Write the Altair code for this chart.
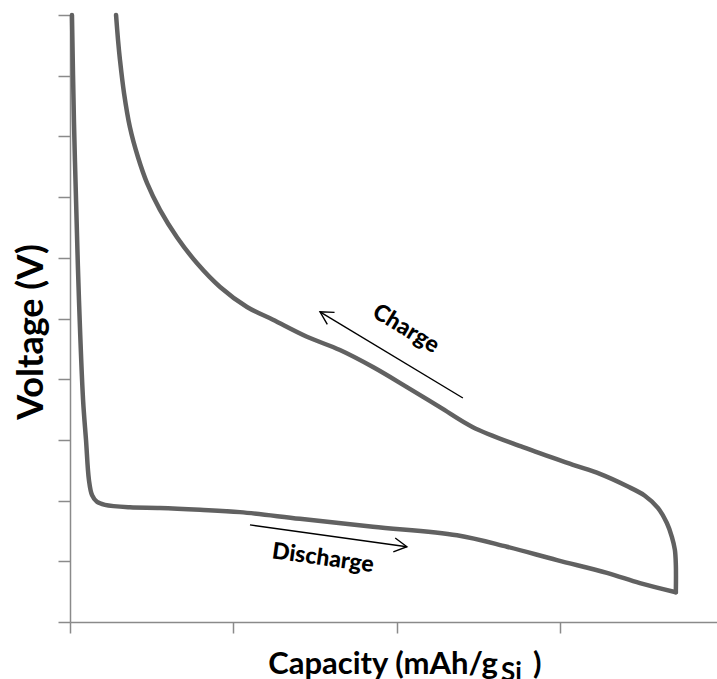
import math
import altair as alt
import pandas as pd

# Galvanostatic discharge/charge profile of a Si anode (capacity in mAh/g, voltage in V)
capacity_discharge = [12, 24, 37, 55, 80, 98, 116, 135, 165, 214, 367, 551, 796, 1041,
                      1408, 1855, 2370, 2676, 2982, 3288, 3490, 3710]
voltage_discharge = [1.000, 0.827, 0.695, 0.530, 0.366, 0.300, 0.234, 0.209, 0.198, 0.193,
                     0.189, 0.188, 0.185, 0.181, 0.170, 0.157, 0.143, 0.124, 0.102,
                     0.081, 0.064, 0.049]

capacity_charge = [3710, 3710, 3704, 3686, 3655, 3600, 3520, 3410, 3245, 3080, 2774, 2467,
                   2265, 2063, 1855, 1653, 1451, 1243, 1084, 919, 778, 655, 551, 472, 416,
                   367, 331, 306, 294, 282]
voltage_charge = [0.049, 0.094, 0.119, 0.140, 0.163, 0.188, 0.208, 0.224, 0.244, 0.259,
                  0.288, 0.321, 0.354, 0.387, 0.420, 0.448, 0.470, 0.498, 0.519, 0.552,
                  0.591, 0.634, 0.679, 0.723, 0.766, 0.815, 0.871, 0.926, 0.959, 1.000]

# Direction arrows and their labels
arrow_labels = ["Charge", "Discharge"]
arrow_tail_cap = [2406, 1102]
arrow_tail_volt = [0.369, 0.160]
arrow_tip_cap = [1531, 2063]
arrow_tip_volt = [0.511, 0.124]
label_cap = [2057, 1549]
label_volt = [0.483, 0.105]

x_ticks = [0, 1000, 2000, 3000]
y_ticks = [round(0.1 * i, 1) for i in range(11)]

X_MAX = 3962
W, H = 647, 607
FONT = "Lato"
CURVE = "#616161"
AXIS = "#8a8a8a"

xs = alt.Scale(domain=[0, X_MAX], nice=False, zero=False)
ys = alt.Scale(domain=[0, 1.0], nice=False)

rows = []
for i, (c, v) in enumerate(zip(capacity_discharge, voltage_discharge)):
    rows.append({"step": "Discharge", "i": i, "capacity": c, "voltage": v})
for i, (c, v) in enumerate(zip(capacity_charge, voltage_charge)):
    rows.append({"step": "Charge", "i": i, "capacity": c, "voltage": v})
curve_df = pd.DataFrame(rows)

px_x = W / X_MAX
px_y = H / 1.0
arrows = []
for lab, tc, tv, hc, hv, lc, lv in zip(arrow_labels, arrow_tail_cap, arrow_tail_volt,
                                       arrow_tip_cap, arrow_tip_volt, label_cap, label_volt):
    dx = (hc - tc) * px_x
    dy = -(hv - tv) * px_y
    ang = math.degrees(math.atan2(dy, dx)) % 360
    text_ang = ang if ang < 90 or ang > 270 else (ang + 180) % 360
    arrows.append({"label": lab, "tc": tc, "tv": tv, "hc": hc, "hv": hv,
                   "lc": lc, "lv": lv, "angle": ang, "text_angle": text_ang})
arrow_df = pd.DataFrame(arrows)

x_enc = alt.X("capacity:Q", scale=xs,
              axis=alt.Axis(values=x_ticks, labels=False, title=None, grid=False,
                            domainColor=AXIS, tickColor=AXIS, tickSize=11,
                            domainWidth=1.5, tickWidth=1.5))
y_enc = alt.Y("voltage:Q", scale=ys,
              axis=alt.Axis(values=y_ticks, labels=False, title=None, grid=False,
                            domainColor=AXIS, tickColor=AXIS, tickSize=12,
                            domainWidth=1.5, tickWidth=1.5))

curves = alt.Chart(curve_df).mark_line(
    color=CURVE, strokeWidth=4.5, strokeJoin="round", strokeCap="round",
    interpolate="catmull-rom"
).encode(x=x_enc, y=y_enc, detail="step:N", order="i:Q")

shafts = alt.Chart(arrow_df).mark_rule(color="black", strokeWidth=1.4).encode(
    x=alt.X("tc:Q", scale=xs), y=alt.Y("tv:Q", scale=ys),
    x2="hc:Q", y2="hv:Q")

heads = alt.Chart(arrow_df).mark_point(
    shape="M-1,-0.55L0,0L-1,0.55", filled=False, color="black",
    strokeWidth=1.4, size=650, opacity=1
).encode(x=alt.X("hc:Q", scale=xs), y=alt.Y("hv:Q", scale=ys),
         angle=alt.Angle("angle:Q", scale=None))

labels = alt.Chart(arrow_df).mark_text(
    font=FONT, fontWeight=900, fontSize=23, color="black",
    align="center", baseline="middle"
).encode(x=alt.X("lc:Q", scale=xs), y=alt.Y("lv:Q", scale=ys),
         text="label:N", angle=alt.Angle("text_angle:Q", scale=None))

# Axis titles (x title has a subscript, so it is built from pieces)
y_title = alt.Chart(pd.DataFrame({"t": ["Voltage (V)"]})).mark_text(
    font=FONT, fontWeight="bold", fontSize=36, color="black",
    angle=270, align="center", baseline="alphabetic"
).encode(x=alt.value(-27), y=alt.value(317), text="t:N")

x_title_main = alt.Chart(pd.DataFrame({"t": ["Capacity (mAh/g"]})).mark_text(
    font=FONT, fontWeight="bold", fontSize=31, color="black",
    align="right", baseline="alphabetic"
).encode(x=alt.value(428), y=alt.value(659), text="t:N")

x_title_sub = alt.Chart(pd.DataFrame({"t": ["Si"]})).mark_text(
    font=FONT, fontWeight="bold", fontSize=26, color="black",
    align="left", baseline="alphabetic"
).encode(x=alt.value(431), y=alt.value(666), text="t:N")

x_title_close = alt.Chart(pd.DataFrame({"t": [")"]})).mark_text(
    font=FONT, fontWeight="bold", fontSize=31, color="black",
    align="left", baseline="alphabetic"
).encode(x=alt.value(463), y=alt.value(659), text="t:N")

chart = alt.layer(
    curves, shafts, heads, labels, y_title, x_title_main, x_title_sub, x_title_close
).properties(
    width=W, height=H,
    padding={"left": 70, "top": 15, "right": 0, "bottom": 57},
    autosize=alt.AutoSizeParams(type="none"),
    background="white",
).configure_view(stroke=None)

chart.save("out.html", embed_options={"renderer": "svg", "actions": False})
